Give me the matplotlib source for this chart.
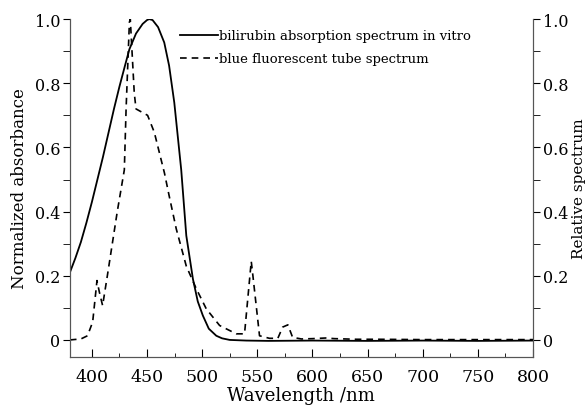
import matplotlib
matplotlib.use("Agg")
import matplotlib.pyplot as plt
from matplotlib.ticker import MultipleLocator

# bilirubin absorption (normalized)
bili_nm = [380, 385, 390, 395, 400, 405, 410, 415, 420, 425, 430, 434, 440, 446, 450, 452, 455, 460,
           465.6, 470, 474.7, 478, 481, 485.6, 491.6, 496, 500.6, 506, 512.8, 518, 525,
           540, 560, 600, 650, 700, 750, 800]
bili_val = [0.21, 0.255, 0.305, 0.365, 0.43, 0.50, 0.57, 0.645, 0.72, 0.79, 0.855, 0.906, 0.955, 0.985,
            0.997, 1.0, 0.997, 0.975,
            0.927, 0.855, 0.74, 0.63, 0.53, 0.325, 0.19, 0.12, 0.076, 0.035, 0.013, 0.005, 0.0,
            -0.002, -0.003, -0.002, -0.003, -0.002, -0.003, -0.002]

# blue fluorescent tube spectrum (relative)
tube_nm = [380, 390, 396, 400.7, 404.6, 406.7, 409.7, 414, 423, 429.4, 431, 434, 434.8, 438.4,
           440, 450.5, 456.6, 462.6, 465.8, 470, 476.5, 485.6, 494.6, 503.7, 515.8, 530.9,
           538.4, 544.5, 546, 552, 561, 568.6, 573, 577.7, 582, 590, 600, 612, 620, 640,
           660, 700, 750, 800]
tube_val = [0.0, 0.003, 0.013, 0.056, 0.185, 0.15, 0.107, 0.2, 0.40, 0.53, 0.72, 0.99, 1.0, 0.77,
            0.72, 0.70, 0.647, 0.564, 0.52, 0.45, 0.346, 0.23, 0.16, 0.097, 0.045, 0.019,
            0.019, 0.245, 0.20, 0.013, 0.005, 0.005, 0.04, 0.047, 0.008, 0.003, 0.004, 0.006, 0.004, 0.002,
            0.002, 0.001, 0.001, 0.001]

xticks = [400, 450, 500, 550, 600, 650, 700, 750, 800]
yticks = [0, 0.2, 0.4, 0.6, 0.8, 1.0]
ylabels = ["0", "0.2", "0.4", "0.6", "0.8", "1.0"]

plt.rcParams["font.family"] = ["DejaVu Serif"]

fig = plt.figure(figsize=(5.87, 4.10), dpi=100)
ax = fig.add_axes([0.119, 0.127, 0.789, 0.824])
ax2 = ax.twinx()

l1, = ax.plot(bili_nm, bili_val, color="black", lw=1.3)
l2, = ax2.plot(tube_nm, tube_val, color="black", lw=1.2, dashes=(4, 3))

for a in (ax, ax2):
    a.set_xlim(380, 800)
    a.set_ylim(-0.053, 1.0)
    a.spines["top"].set_visible(False)
    for s in a.spines.values():
        s.set_color("#555555")
    a.set_yticks(yticks)
    a.set_yticklabels(ylabels)
    a.yaxis.set_minor_locator(MultipleLocator(0.1))
    a.tick_params(axis="y", which="both", direction="out", length=5, labelsize=11.5, pad=2)

ax.set_xticks(xticks)
ax.xaxis.set_minor_locator(MultipleLocator(25))
ax.tick_params(axis="x", which="major", direction="in", length=6, labelsize=12.5, pad=8)
ax.tick_params(axis="x", which="minor", direction="in", length=3)

ax.set_xlabel("Wavelength /nm", fontsize=13, labelpad=1)
ax.set_ylabel("Normalized absorbance", fontsize=12, labelpad=5)
ax2.set_ylabel("Relative spectrum", fontsize=11)
ax2.yaxis.set_label_coords(1.1, 0.5)
ax2.yaxis.label.set_va("center")

ax.legend([l1, l2], ["bilirubin absorption spectrum in vitro", "blue fluorescent tube spectrum"],
          loc="upper left", bbox_to_anchor=(0.226, 0.985), frameon=False, fontsize=9.5,
          handlelength=2.9, handletextpad=0.05, labelspacing=0.75, borderaxespad=0)

fig.savefig("out.png", dpi=100)
